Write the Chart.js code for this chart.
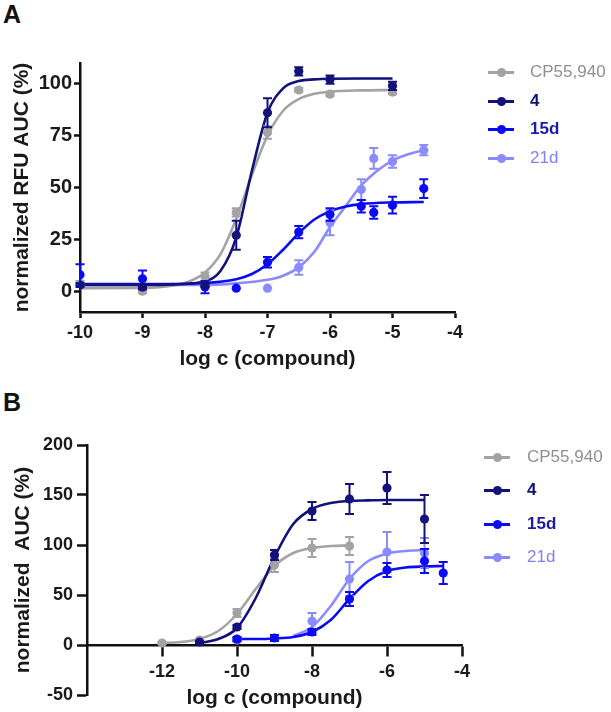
<!DOCTYPE html>
<html><head><meta charset="utf-8">
<script src="https://cdn.jsdelivr.net/npm/chart.js@4.4.1/dist/chart.umd.min.js"></script>
<style>
html,body{margin:0;padding:0;background:#fff;overflow:hidden}
#wrap{position:relative;width:611px;height:712px;overflow:hidden;background:#fff;font-family:'Liberation Sans',Arial,sans-serif}
canvas{position:absolute;left:0}
.panel{position:absolute;left:3px;font-weight:bold;font-size:25px;line-height:25px;color:#111}
.leg{position:absolute;height:20px;display:flex;align-items:center;font-size:17px;white-space:nowrap}
.mk{position:relative;width:26px;height:3px;margin-right:16px}
.mk i{position:absolute;left:8.5px;top:-3px;width:9px;height:9px;border-radius:50%}
</style></head><body><div id="wrap">
<div class="panel" style="top:2px">A</div>
<div class="panel" style="top:390px">B</div>
<canvas id="cA" width="611" height="372" style="top:0"></canvas>
<canvas id="cB" width="611" height="381" style="top:380px"></canvas>
</div>
<script>
// ---------- series ----------
const SERIES_NAMES = ['CP55,940', '4', '15d', '21d'];
const LINE_COLORS = ['#a3a3a3', '#12127a', '#0b0bf2', '#8b8bff'];
const LEGEND_TEXT_COLORS = ['#8f8f8f', '#12127a', '#1c1ca6', '#8080f5'];
const LEGEND_WEIGHTS = ['normal', 'bold', 'bold', 'normal'];

// ---------- panel A : measured points ----------
const A_CP_x = [-10, -9, -8, -7.5, -7, -6.5, -6, -5];
const A_CP_y = [4, 0, 7, 38, 76.5, 97, 95, 96];
const A_CP_err = [1, 1, 2, 2, 3, 1, 1, 1];
const A_4_x = [-10, -9, -8, -7.5, -7, -6.5, -6, -5];
const A_4_y = [3, 2, 3, 27, 86, 106, 102, 99];
const A_4_err = [1, 1, 1, 7, 7, 2, 2, 2];
const A_15d_x = [-10, -9, -8, -7.5, -7, -6.5, -6, -5.5, -5.3, -5, -4.5];
const A_15d_y = [8, 6, 2, 1.5, 14, 28.5, 37, 41, 38, 41.5, 49.5];
const A_15d_err = [5, 4, 3, 0, 2.5, 3, 3, 3, 3, 4, 4.5];
const A_21d_x = [-7, -6.5, -6, -5.5, -5.3, -5, -4.5];
const A_21d_y = [1.5, 11.5, 33, 49, 64, 62.5, 68];
const A_21d_err = [0, 3.5, 6, 5, 5, 3, 2.5];

// ---------- panel A : fitted curves ----------
const A_CP_fit_x = [-10, -9, -8.5, -8.25, -8, -7.75, -7.5, -7.25, -7, -6.75, -6.5, -6.25, -6, -5.5, -5];
const A_CP_fit_y = [1.5, 1.6, 2.8, 4.7, 9, 18, 35, 56, 75, 87, 92.6, 95.2, 96.2, 96.8, 97];
const A_4_fit_x = [-10, -9, -8.5, -8, -7.75, -7.5, -7.25, -7, -6.75, -6.5, -6.25, -6, -5.5, -5];
const A_4_fit_y = [3, 3, 3.3, 4.8, 9.9, 26, 58, 86, 97.8, 101.3, 102.1, 102.4, 102.5, 102.5];
const A_15d_fit_x = [-10, -9, -8, -7.5, -7.25, -7, -6.75, -6.5, -6.25, -6, -5.75, -5.5, -5, -4.5];
const A_15d_fit_y = [3.5, 3.5, 4, 5.8, 8.3, 13, 20, 28, 34.6, 38.5, 40.8, 42, 42.8, 43];
const A_21d_fit_x = [-10, -8, -7.5, -7, -6.75, -6.5, -6.25, -6, -5.75, -5.5, -5.25, -5, -4.75, -4.5];
const A_21d_fit_y = [3, 3, 3.8, 5.5, 7.5, 11.5, 19, 31, 41, 51, 58, 63, 66, 68];

const A_XTICKS = [-10, -9, -8, -7, -6, -5, -4];
const A_YTICKS = [0, 25, 50, 75, 100];

// ---------- panel B : measured points ----------
const B_CP_x = [-12, -11, -10, -9, -8, -7];
const B_CP_y = [2, 5, 32, 80, 97, 99];
const B_CP_err = [1, 1, 4, 7, 9, 9];
const B_4_x = [-11, -10, -9, -8, -7, -6, -5];
const B_4_y = [3, 18, 90, 134, 146, 157, 126];
const B_4_err = [1, 2, 5, 9, 15, 16, 24];
const B_15d_x = [-10, -9, -8, -7, -6, -5, -4.5];
const B_15d_y = [6, 7, 13, 46, 75, 84, 72];
const B_15d_err = [2, 3, 3, 7, 7, 12, 11];
const B_21d_x = [-10, -8, -7, -6, -5];
const B_21d_y = [5, 24, 66, 93, 92];
const B_21d_err = [2, 8, 17, 20, 15];

// ---------- panel B : fitted curves ----------
const B_CP_fit_x = [-12, -11.5, -11, -10.5, -10, -9.5, -9, -8.5, -8, -7.5, -7];
const B_CP_fit_y = [2, 3, 6, 14, 31, 56, 79, 92, 97, 99, 99.5];
const B_4_fit_x = [-11, -10.5, -10, -9.5, -9, -8.5, -8, -7.5, -7, -6.5, -6, -5.5, -5];
const B_4_fit_y = [2, 6, 17, 47, 88, 121, 136, 142, 144, 144.6, 145, 145, 145];
const B_15d_fit_x = [-10, -9.5, -9, -8.5, -8, -7.5, -7, -6.5, -6, -5.5, -5, -4.5];
const B_15d_fit_y = [6, 6, 6.5, 8, 13, 25, 46, 64, 74, 77.5, 78.5, 79];
const B_21d_fit_x = [-8.5, -8, -7.5, -7, -6.5, -6, -5.5, -5];
const B_21d_fit_y = [9, 18, 39, 66, 84, 91.5, 94, 95];

const B_XTICKS = [-12, -10, -8, -6, -4];
const B_YTICKS = [-50, 0, 50, 100, 150, 200];

// ---------- helpers ----------
const FONT = "'Liberation Sans', Arial, sans-serif";
Chart.defaults.font.family = FONT;
Chart.defaults.color = '#1a1a1a';

const zip = (xs, ys) => xs.map((x, i) => ({x: x, y: ys[i]}));

function pointSet(idx, xs, ys, errs, order) {
  return {
    label: SERIES_NAMES[idx], data: zip(xs, ys), errors: errs,
    showLine: false, pointRadius: 4.6, pointHoverRadius: 4.6,
    pointBackgroundColor: LINE_COLORS[idx], pointBorderWidth: 0,
    borderColor: LINE_COLORS[idx], backgroundColor: LINE_COLORS[idx], order: order
  };
}
function curveSet(idx, xs, ys, order) {
  return {
    label: SERIES_NAMES[idx] + ' fit', data: zip(xs, ys),
    showLine: true, pointRadius: 0, borderWidth: 2.6, borderColor: LINE_COLORS[idx],
    cubicInterpolationMode: 'monotone', fill: false, order: order
  };
}

const errorBarPlugin = {
  id: 'errorBars',
  beforeDatasetDraw(chart, args) {
    const ds = chart.data.datasets[args.index];
    if (!ds.errors) return;
    const ctx = chart.ctx, xs = chart.scales.x, ys = chart.scales.y;
    ctx.save();
    ctx.strokeStyle = ds.borderColor;
    ctx.lineWidth = 2;
    ds.data.forEach((p, i) => {
      const e = ds.errors[i];
      if (!e) return;
      const px = xs.getPixelForValue(p.x);
      const t = ys.getPixelForValue(p.y + e), b = ys.getPixelForValue(p.y - e);
      ctx.beginPath();
      ctx.moveTo(px, t); ctx.lineTo(px, b);
      ctx.moveTo(px - 4.5, t); ctx.lineTo(px + 4.5, t);
      ctx.moveTo(px - 4.5, b); ctx.lineTo(px + 4.5, b);
      ctx.stroke();
    });
    ctx.restore();
  }
};

function axisCommon(tickLen) {
  return {
    grid: {display: true, drawOnChartArea: false, drawTicks: true, tickLength: tickLen, tickWidth: 2.5, tickColor: '#111'},
    border: {display: true, color: '#111', width: 2.5}
  };
}

function makeChart(id, datasets, o) {
  return new Chart(document.getElementById(id), {
    type: 'scatter',
    data: {datasets: datasets},
    plugins: [errorBarPlugin],
    options: {
      responsive: false, animation: false, devicePixelRatio: 1,
      layout: {padding: o.padding},
      plugins: {legend: {display: false}, tooltip: {enabled: false}},
      scales: {
        x: Object.assign(axisCommon(o.xTickLen), {
          type: 'linear', min: o.xmin, max: o.xmax, position: o.xpos,
          afterBuildTicks: s => { s.ticks = o.xticks.map(v => ({value: v})); },
          afterFit: s => { s.height = o.xH; },
          ticks: {font: {size: 18, weight: 'bold'}, color: '#1a1a1a', padding: o.xPad, maxRotation: 0, autoSkip: false, callback: v => String(v)},
          title: {display: true, text: 'log c (compound)', font: {size: 21, weight: 'bold'}, color: '#1a1a1a', padding: {top: 0, bottom: 0}}
        }),
        y: Object.assign(axisCommon(o.yTickLen), {
          type: 'linear', min: o.ymin, max: o.ymax,
          afterBuildTicks: s => { s.ticks = o.yticks.map(v => ({value: v})); },
          afterFit: s => { s.width = o.yW; },
          ticks: {font: {size: o.yFont, weight: 'bold'}, color: '#1a1a1a', padding: o.yPad, autoSkip: false, callback: v => String(v)},
          title: {display: true, text: o.ytitle, font: {size: 21, weight: 'bold'}, color: '#1a1a1a', padding: {top: o.yTitlePad, bottom: 0}}
        })
      }
    }
  });
}

// ---------- panel A ----------
makeChart('cA', [
  pointSet(1, A_4_x, A_4_y, A_4_err, 0),
  pointSet(2, A_15d_x, A_15d_y, A_15d_err, 1),
  pointSet(0, A_CP_x, A_CP_y, A_CP_err, 2),
  pointSet(3, A_21d_x, A_21d_y, A_21d_err, 3),
  curveSet(1, A_4_fit_x, A_4_fit_y, 4),
  curveSet(2, A_15d_fit_x, A_15d_fit_y, 5),
  curveSet(0, A_CP_fit_x, A_CP_fit_y, 6),
  curveSet(3, A_21d_fit_x, A_21d_fit_y, 7)
], {
  padding: {left: 0, right: 156, top: 63, bottom: 0},
  xmin: -10, xmax: -4, xpos: 'bottom', xticks: A_XTICKS, xH: 60, xPad: 4, xTickLen: 6,
  ymin: -10, ymax: 110, yticks: A_YTICKS, yW: 80, yPad: 2, yTickLen: 6, yFont: 20,
  ytitle: 'normalized RFU AUC (%)', yTitlePad: 10
});

// ---------- panel B ----------
makeChart('cB', [
  pointSet(1, B_4_x, B_4_y, B_4_err, 0),
  pointSet(2, B_15d_x, B_15d_y, B_15d_err, 1),
  pointSet(0, B_CP_x, B_CP_y, B_CP_err, 2),
  pointSet(3, B_21d_x, B_21d_y, B_21d_err, 3),
  curveSet(1, B_4_fit_x, B_4_fit_y, 4),
  curveSet(2, B_15d_fit_x, B_15d_fit_y, 5),
  curveSet(0, B_CP_fit_x, B_CP_fit_y, 6),
  curveSet(3, B_21d_fit_x, B_21d_fit_y, 7)
], {
  padding: {left: 0, right: 149, top: 65, bottom: 66},
  xmin: -14, xmax: -4, xpos: {y: 0}, xticks: B_XTICKS, xH: 66, xPad: 6, xTickLen: 10,
  ymin: -50, ymax: 200, yticks: B_YTICKS, yW: 87, yPad: 4, yTickLen: 10, yFont: 18,
  ytitle: 'normalized  AUC (%)', yTitlePad: 11
});

// ---------- legends (HTML) ----------
function legend(left, textLeft, centers) {
  const wrap = document.getElementById('wrap');
  SERIES_NAMES.forEach((name, i) => {
    const row = document.createElement('div');
    row.className = 'leg';
    row.style.left = left + 'px';
    row.style.top = (centers[i] - 10) + 'px';
    const mk = document.createElement('div');
    mk.className = 'mk';
    mk.style.background = LINE_COLORS[i];
    mk.style.marginRight = (textLeft - left - 26) + 'px';
    const dot = document.createElement('i');
    dot.style.background = LINE_COLORS[i];
    mk.appendChild(dot);
    const t = document.createElement('span');
    t.textContent = name;
    t.style.color = LEGEND_TEXT_COLORS[i];
    t.style.fontWeight = LEGEND_WEIGHTS[i];
    row.appendChild(mk); row.appendChild(t);
    wrap.appendChild(row);
  });
}
legend(488, 530, [72, 101, 129, 158]);
legend(484, 527, [457, 490, 524, 557]);
</script></body></html>
